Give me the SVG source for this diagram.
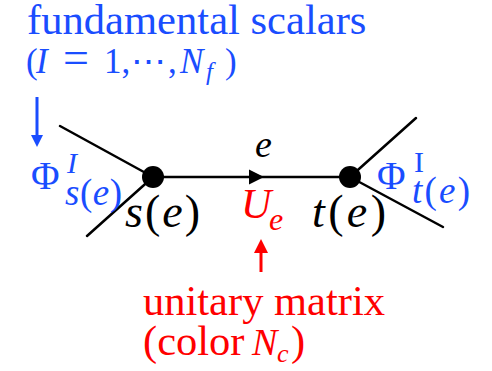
<svg xmlns="http://www.w3.org/2000/svg" width="492" height="371" viewBox="0 0 492 371">
<style>
.txt{font-family:"Liberation Serif","Times New Roman",serif;}
.it{font-style:italic;}
.up{font-style:normal;}
.blue{fill:#1a4dff;}
.red{fill:#ff0000;}
.blk{fill:#000;}
.edge{stroke:#000;stroke-width:2.5;fill:none;stroke-linecap:round;}
</style>
<rect width="492" height="371" fill="#fff"/>
<g id="connectors">
  <line class="edge" x1="60" y1="126" x2="153" y2="177"/>
  <line class="edge" x1="87" y1="236" x2="153" y2="177"/>
  <line class="edge" x1="153" y1="177" x2="350" y2="177"/>
  <polygon points="249,169.5 264,177 249,184.5" fill="#000"/>
  <line class="edge" x1="350" y1="177" x2="416" y2="118"/>
  <line class="edge" x1="350" y1="177" x2="443" y2="227"/>
  <line x1="37" y1="97" x2="37" y2="137" stroke="#1a4dff" stroke-width="3"/>
  <polygon points="31,135 43,135 37,147" fill="#1a4dff"/>
  <line x1="261" y1="272" x2="261" y2="251" stroke="#ff0000" stroke-width="3"/>
  <polygon points="254,253 268,253 261,239" fill="#ff0000"/>
</g>
<g id="node-s">
  <circle cx="153" cy="177" r="11" fill="#000"/>
  <text class="txt it blk" x="125" y="227" font-size="46" textLength="75" lengthAdjust="spacing">s<tspan class="up">(</tspan>e<tspan class="up">)</tspan></text>
</g>
<g id="node-t">
  <circle cx="350" cy="177" r="11" fill="#000"/>
  <text class="txt it blk" x="312" y="227" font-size="46" textLength="74" lengthAdjust="spacing">t<tspan class="up">(</tspan>e<tspan class="up">)</tspan></text>
</g>
<g id="edge-label">
  <text class="txt it blk" x="255" y="157" font-size="38">e</text>
  <text class="txt it red" x="241" y="218" font-size="42">U</text>
  <text class="txt it red" x="269" y="230" font-size="32">e</text>
</g>
<g id="phi-s">
  <text class="txt blue" x="31" y="189" font-size="39">Φ</text>
  <text class="txt it blue" x="67" y="173" font-size="30">I</text>
  <text class="txt it blue" x="65" y="205" font-size="37" textLength="57" lengthAdjust="spacing">s<tspan class="up">(</tspan>e<tspan class="up">)</tspan></text>
</g>
<g id="phi-t">
  <text class="txt blue" x="377" y="189" font-size="39">Φ</text>
  <text class="txt blue" x="414" y="172" font-size="30">I</text>
  <text class="txt it blue" x="412" y="203" font-size="37" textLength="58" lengthAdjust="spacing">t<tspan class="up">(</tspan>e<tspan class="up">)</tspan></text>
</g>
<g id="label-scalars">
  <text class="txt blue" x="27" y="34" font-size="42.6">fundamental scalars</text>
  <text class="txt blue" y="73" font-size="35"><tspan x="26">(</tspan><tspan x="36" class="it">I</tspan><tspan x="63" font-size="46">=</tspan><tspan x="104">1,</tspan><tspan x="131">⋯</tspan><tspan x="168">,</tspan><tspan x="180" class="it">N</tspan><tspan x="225">)</tspan></text>
  <text class="txt it blue" x="206" y="80" font-size="25">f</text>
</g>
<g id="label-unitary">
  <text class="txt red" x="143" y="315" font-size="42.5">unitary matrix</text>
  <text class="txt red" x="143" y="355" font-size="42.5">(color</text>
  <text class="txt it red" x="252" y="355" font-size="38">N</text>
  <text class="txt it red" x="277" y="362" font-size="26">c</text>
  <text class="txt red" x="291" y="355" font-size="42.5">)</text>
</g>
</svg>
